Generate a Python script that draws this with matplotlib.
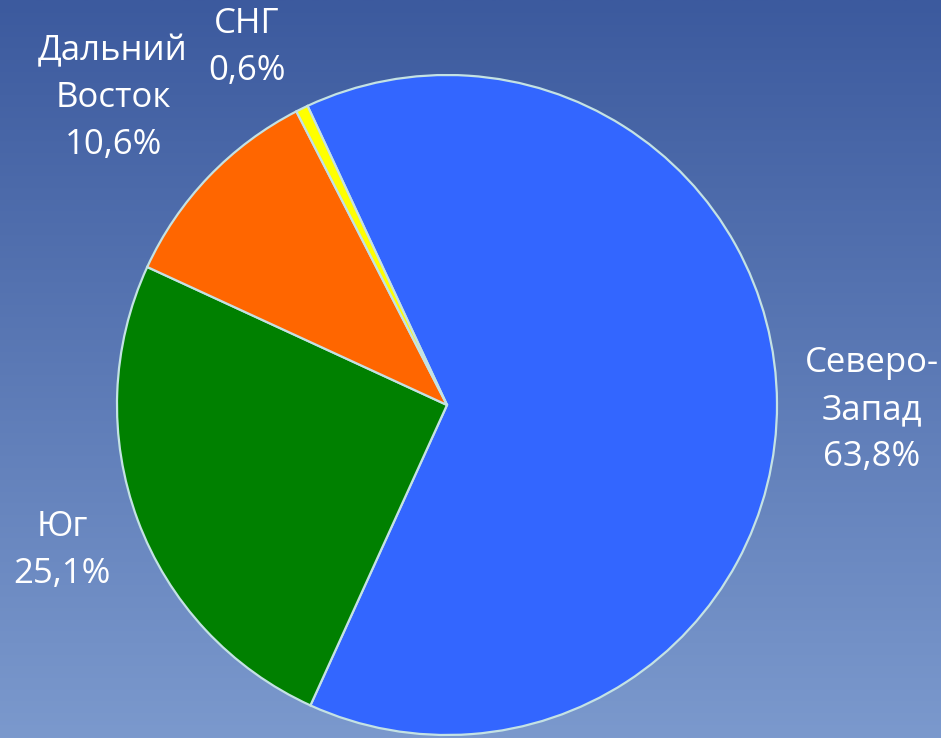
import numpy as np
import matplotlib
matplotlib.use("Agg")
import matplotlib.pyplot as plt
from matplotlib.colors import LinearSegmentedColormap

# ── Data ──────────────────────────────────────────────────────────────────────
regions = ["Северо-\nЗапад", "Юг", "Дальний\nВосток", "СНГ"]
shares = [63.8, 25.1, 10.6, 0.6]
colors = ["#3366ff", "#008000", "#ff6600", "#ffff00"]

plt.rcParams["font.family"] = ["Open Sans", "DejaVu Sans"]

fig = plt.figure(figsize=(9.41, 7.38), dpi=100)
ax = fig.add_axes([0, 0, 1, 1])

# pie centre at (447, 405) px, radius 330 px
R = 330.0
xlim = (-447 / R, (941 - 447) / R)
ylim = (-(738 - 405) / R, 405 / R)

# background gradient
bg = LinearSegmentedColormap.from_list("bg", ["#7b99cd", "#3c5a9e"])
grad = np.linspace(0, 1, 256).reshape(-1, 1)
ax.imshow(grad, cmap=bg, origin="lower", aspect="auto",
          extent=(xlim[0], xlim[1], ylim[0], ylim[1]), zorder=0)

ax.pie(shares, colors=colors, startangle=115, counterclock=False,
       radius=1.0, center=(0, 0),
       wedgeprops=dict(edgecolor="#c4e2e4", linewidth=1.6, zorder=2))

ax.set_xlim(*xlim)
ax.set_ylim(*ylim)
ax.set_aspect("auto")
ax.axis("off")

# labels
label_pos = [(1.288, -0.015), (-1.167, -0.44), (-1.012, 0.93), (-0.606, 1.082)]
for name, val, (x, y) in zip(regions, shares, label_pos):
    txt = f"{name}\n{val:.1f}%".replace(".", ",")
    ax.text(x, y, txt, ha="center", va="center", color="white",
            fontsize=25, linespacing=1.5, zorder=3)

fig.savefig("out.png", dpi=100)
